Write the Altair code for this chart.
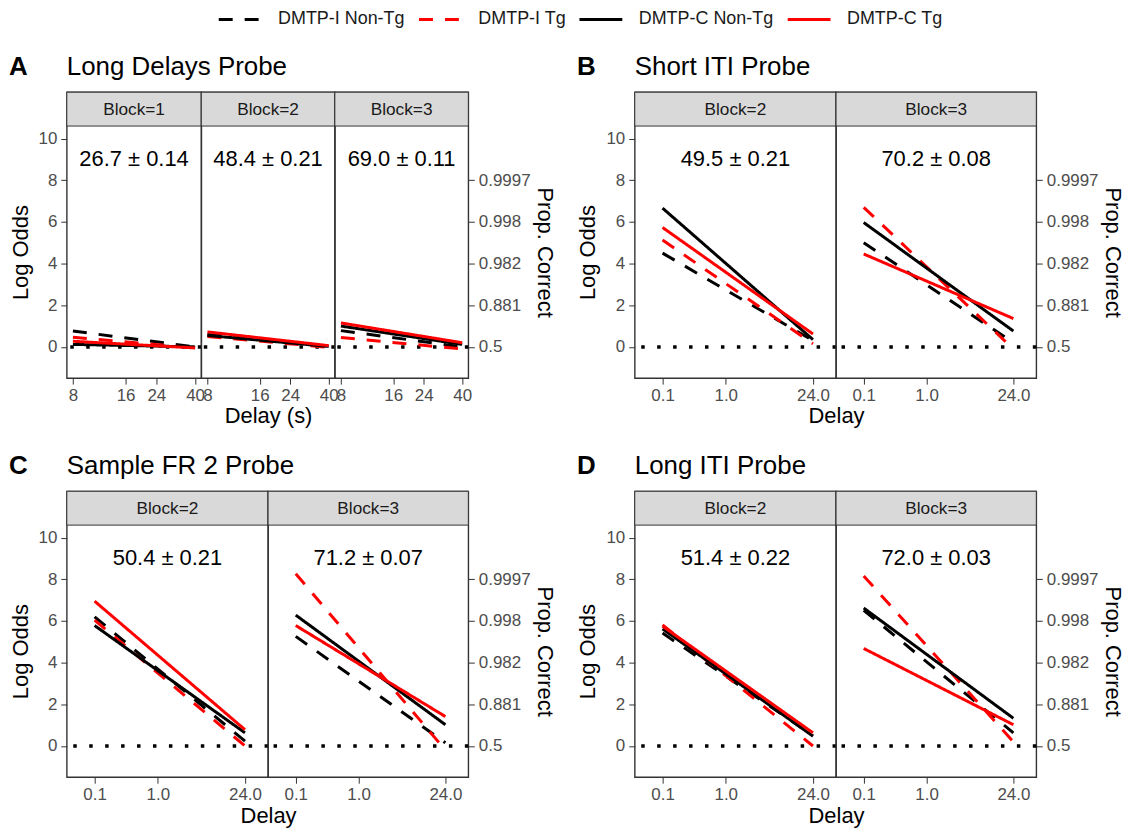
import altair as alt
import pandas as pd

# ---------------- data ----------------
groups = ["DMTP-I Non-Tg", "DMTP-I Tg", "DMTP-C Non-Tg", "DMTP-C Tg"]

long_delays = [8, 40]          # panel A delay range (s)
short_delays = [0.1, 24]       # panels B, C, D delay range

# log odds at first / last delay, one value per group (order = groups)
A1_start = [0.76, 0.46, 0.12, 0.27]
A1_end = [0.0, -0.05, 0.0, -0.05]
A2_start = [0.60, 0.50, 0.55, 0.72]
A2_end = [0.0, -0.02, 0.02, 0.06]
A3_start = [0.78, 0.45, 1.00, 1.15]
A3_end = [0.0, -0.10, 0.12, 0.20]

B2_start = [4.50, 5.13, 6.66, 5.73]
B2_end = [0.30, 0.15, 0.35, 0.62]
B3_start = [5.00, 6.70, 5.97, 4.46]
B3_end = [0.20, -0.10, 0.76, 1.36]

C2_start = [6.20, 6.04, 5.78, 6.95]
C2_end = [0.23, 0.00, 0.63, 0.78]
C3_start = [5.26, 8.27, 6.28, 5.78]
C3_end = [0.15, -0.20, 1.02, 1.41]

D2_start = [5.42, 5.81, 5.62, 5.75]
D2_end = [0.50, 0.00, 0.47, 0.63]
D3_start = [6.51, 8.16, 6.62, 4.68]
D3_end = [0.63, 0.20, 1.33, 1.02]

panel_letters = ["A", "B", "C", "D"]
panel_titles = ["Long Delays Probe", "Short ITI Probe", "Sample FR 2 Probe", "Long ITI Probe"]
panel_blocks = [[1, 2, 3], [2, 3], [2, 3], [2, 3]]
panel_annots = [["26.7 ± 0.14", "48.4 ± 0.21", "69.0 ± 0.11"],
                ["49.5 ± 0.21", "70.2 ± 0.08"],
                ["50.4 ± 0.21", "71.2 ± 0.07"],
                ["51.4 ± 0.22", "72.0 ± 0.03"]]
panel_xtitles = ["Delay (s)", "Delay", "Delay", "Delay"]

long_ticks = [8, 16, 24, 40]
short_ticks = [0.1, 1.0, 24.0]
logodds_ticks = [0, 2, 4, 6, 8, 10]
prop_ticks = [0, 2, 4, 6, 8]
prop_labels = ["0.5", "0.881", "0.982", "0.998", "0.9997"]

series = {
    ("A", 1): (A1_start, A1_end), ("A", 2): (A2_start, A2_end), ("A", 3): (A3_start, A3_end),
    ("B", 2): (B2_start, B2_end), ("B", 3): (B3_start, B3_end),
    ("C", 2): (C2_start, C2_end), ("C", 3): (C3_start, C3_end),
    ("D", 2): (D2_start, D2_end), ("D", 3): (D3_start, D3_end),
}

rows = []
for (panel, block), (st, en) in series.items():
    xs = long_delays if panel == "A" else short_delays
    for g, s, e in zip(groups, st, en):
        rows.append(dict(panel=panel, block=block, group=g, delay=xs[0], logodds=s))
        rows.append(dict(panel=panel, block=block, group=g, delay=xs[1], logodds=e))
lines_df = pd.DataFrame(rows)

# ---------------- layout constants ----------------
FONT = "Liberation Sans"
STRIP_H = 34
PLOT_H = 253
Y_MIN, Y_MAX = -1.5, 10.6
Y_TOP = Y_MAX + STRIP_H * (Y_MAX - Y_MIN) / PLOT_H
VIEW_H = STRIP_H + PLOT_H
BORDER = "#333333"

A_WIDTHS = [135, 134, 134]
BCD_WIDTHS = [202, 201]
A_DOMAIN = [7.38, 43.4]
BCD_DOMAIN = [0.0363, 55.6]

label_expr = " : ".join(
    f"datum.value == {v} ? '{l}'" for v, l in zip(prop_ticks, prop_labels)
) + " : ''"

color_scale = alt.Scale(domain=groups, range=["black", "#FF0000", "black", "#FF0000"])
dash_scale = alt.Scale(domain=groups, range=[[14, 12], [14, 12], [1, 0], [1, 0]])


def legend():
    return alt.Legend(title=None, orient="none", legendX=151, legendY=-83,
                      direction="horizontal", symbolType="stroke", symbolSize=1849,
                      symbolStrokeWidth=3, labelFontSize=18, labelOffset=15,
                      columnPadding=12, labelColor="#1A1A1A", labelFont=FONT,
                      gridAlign="none", clipHeight=20)


def make_facet(pi, fi):
    letter = panel_letters[pi]
    block = panel_blocks[pi][fi]
    nfac = len(panel_blocks[pi])
    widths = A_WIDTHS if letter == "A" else BCD_WIDTHS
    width = widths[fi]
    first = fi == 0
    last = fi == nfac - 1
    yscale = alt.Scale(domain=[Y_MIN, Y_TOP], nice=False, zero=False)

    if letter == "A":
        xscale = alt.Scale(type="log", domain=A_DOMAIN, nice=False)
        xticks, xfmt = long_ticks, "d"
    else:
        xscale = alt.Scale(type="log", domain=BCD_DOMAIN, nice=False)
        xticks, xfmt = short_ticks, ".1f"

    axis_common = dict(grid=False, domain=False, tickSize=6, tickColor=BORDER,
                       labelFontSize=17, labelColor="#4D4D4D", labelFont=FONT,
                       titleFontSize=22, titleFontWeight="normal", titleColor="black",
                       titleFont=FONT)
    x_kwargs = dict(values=xticks, format=xfmt, labelPadding=3, labelFlush=False,
                    labelOverlap=False, titlePadding=3, **axis_common)
    if letter == "A":
        if fi == 1:
            x_kwargs["title"] = panel_xtitles[pi]
        else:
            x_kwargs["title"] = None
    else:
        if fi == 0:
            x_kwargs.update(title=panel_xtitles[pi], titleX=width, titleAlign="center")
        else:
            x_kwargs["title"] = None
    xaxis = alt.Axis(**x_kwargs)

    left_axis = alt.Axis(values=logodds_ticks, title="Log Odds", titleY=STRIP_H + PLOT_H / 2,
                         titleAlign="center", titlePadding=6, labelPadding=4, **axis_common)
    right_axis = alt.Axis(orient="right", values=prop_ticks, labelExpr=label_expr,
                          title="Prop. Correct", titleY=STRIP_H + PLOT_H / 2,
                          titleAlign="center", titlePadding=2, labelPadding=4, **axis_common)

    strip_df = pd.DataFrame({"label": [f"Block={block}"]})
    strip = alt.Chart(strip_df).mark_rect(fill="#D9D9D9", stroke=BORDER, strokeWidth=1).encode(
        x=alt.value(0), x2=alt.value(width), y=alt.value(0), y2=alt.value(STRIP_H))
    strip_text = alt.Chart(strip_df).mark_text(fontSize=17.3, color="#1A1A1A", font=FONT,
                                               baseline="middle").encode(
        x=alt.value(width / 2), y=alt.value(STRIP_H / 2 + 1), text="label:N")

    zero_df = pd.DataFrame({"y": [0]})
    zero = alt.Chart(zero_df).mark_rule(color="black", strokeDash=[3.5, 12.5],
                                        strokeWidth=3.5).encode(
        y=alt.Y("y:Q", scale=yscale, axis=right_axis if last else None))

    sub = lines_df[(lines_df.panel == letter) & (lines_df.block == block)]
    lines = alt.Chart(sub).mark_line(strokeWidth=3, strokeCap="butt").encode(
        x=alt.X("delay:Q", scale=xscale, axis=xaxis),
        y=alt.Y("logodds:Q", scale=yscale, axis=left_axis if first else None),
        color=alt.Color("group:N", scale=color_scale, legend=legend()),
        strokeDash=alt.StrokeDash("group:N", scale=dash_scale, legend=legend()),
        detail="group:N",
    )

    ann_df = pd.DataFrame({"text": [panel_annots[pi][fi]], "y": [9]})
    ann = alt.Chart(ann_df).mark_text(fontSize=22, color="black", font=FONT,
                                      baseline="middle").encode(
        x=alt.value(width / 2), y=alt.Y("y:Q", scale=yscale, axis=None), text="text:N")

    layers = [strip, strip_text, zero, lines, ann]
    if first:
        t_df = pd.DataFrame({"letter": [letter], "title": [panel_titles[pi]]})
        lt = alt.Chart(t_df).mark_text(fontSize=26, fontWeight="bold", font=FONT,
                                       align="left", baseline="alphabetic", color="black").encode(
            x=alt.value(-58), y=alt.value(-17), text="letter:N")
        tt = alt.Chart(t_df).mark_text(fontSize=26, font=FONT, align="left",
                                       baseline="alphabetic", color="black").encode(
            x=alt.value(0), y=alt.value(-17), text="title:N")
        layers += [lt, tt]

    return alt.layer(*layers).properties(width=width, height=VIEW_H).resolve_axis(y="independent")


def make_panel(pi):
    facets = [make_facet(pi, fi) for fi in range(len(panel_blocks[pi]))]
    return alt.hconcat(*facets, spacing=0, bounds="flush")


row1 = alt.hconcat(make_panel(0), make_panel(1), spacing=20)
row2 = alt.hconcat(make_panel(2), make_panel(3), spacing=20)

chart = alt.vconcat(row1, row2, spacing=24.5).properties(
    padding={"left": 0, "top": 0, "right": 0, "bottom": 0}
).configure(font=FONT).configure_view(stroke=BORDER, strokeWidth=1.4)

chart.save("out.html", embed_options={"renderer": "svg", "actions": False})
